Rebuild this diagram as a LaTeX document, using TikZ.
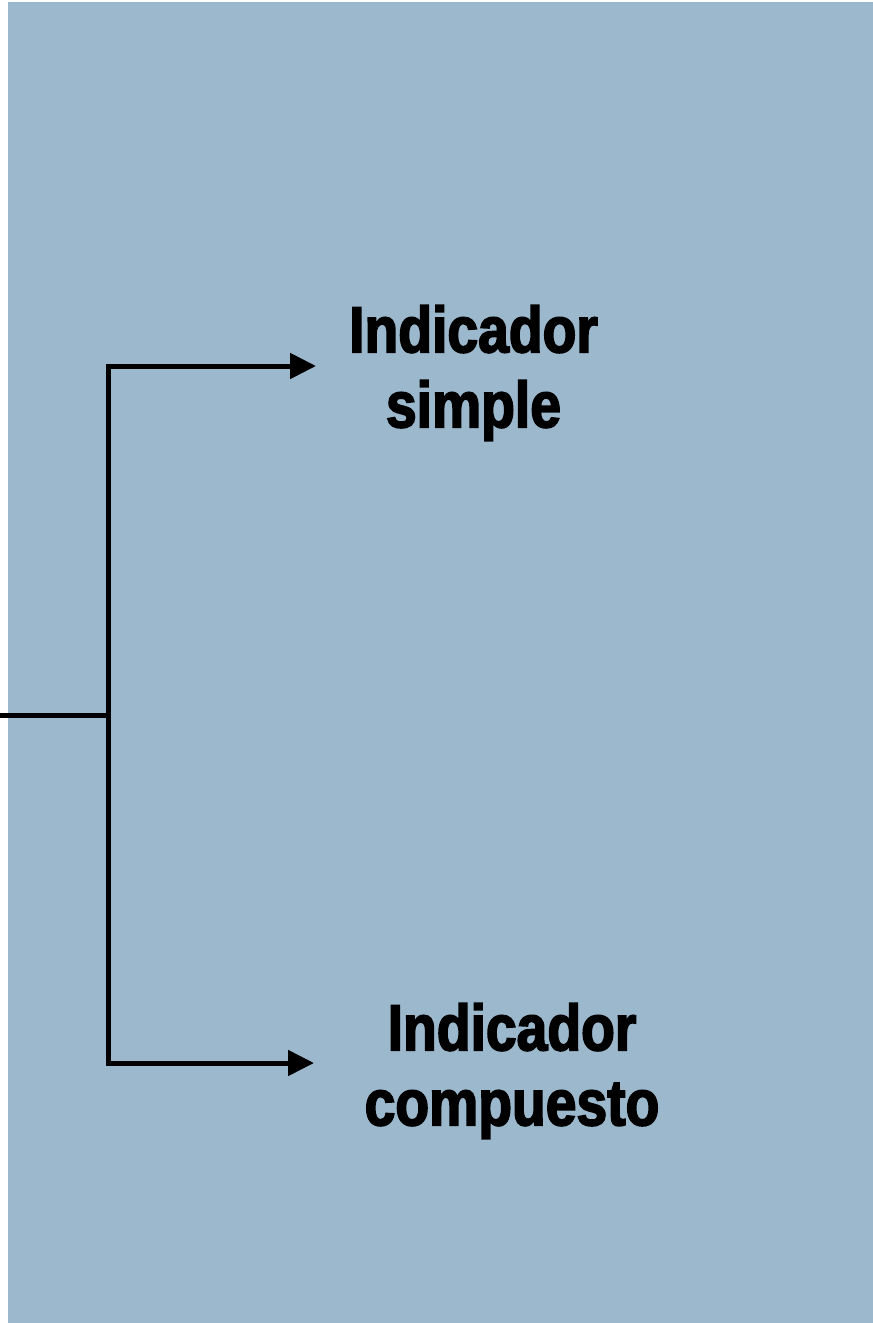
\documentclass[tikz,border=0pt]{standalone}
\usepackage{fontspec}
\usepackage{tikz}
\usetikzlibrary{arrows.meta,positioning}
\newfontfamily\labelfont{Liberation Sans}[FakeStretch=0.85,FakeBold=2.6]
\definecolor{panelblue}{HTML}{9BB8CD}

\begin{document}
\begin{tikzpicture}[x=1pt,y=-1pt,
    branch/.style={line width=5pt},
    arr/.style={branch,-{Triangle[length=26pt,width=25pt]}},
    lbl/.style={inner sep=0pt,align=center,anchor=north,
      font=\labelfont\bfseries\fontsize{65}{75}\selectfont}]
    \useasboundingbox (0,0) rectangle (873,1323);
    \fill[panelblue] (8,2) rectangle (873,1323);

    \coordinate (in) at (0,715);
    \coordinate (j) at (108,715);
    \coordinate (top) at (108,366);
    \coordinate (bot) at (108,1063);
    \coordinate (topend) at (316,366);
    \coordinate (botend) at (314,1063);

    \node[lbl] (simple) at (473.5,305) {Indicador\\simple};
    \node[lbl] (compuesto) at (512,1003) {Indicador\\compuesto};

    \draw[branch] (in) -- (j);
    \draw[branch,line cap=rect] (top) -- (bot);
    \draw[arr] (top) -- (topend);
    \draw[arr] (bot) -- (botend);
\end{tikzpicture}
\end{document}
